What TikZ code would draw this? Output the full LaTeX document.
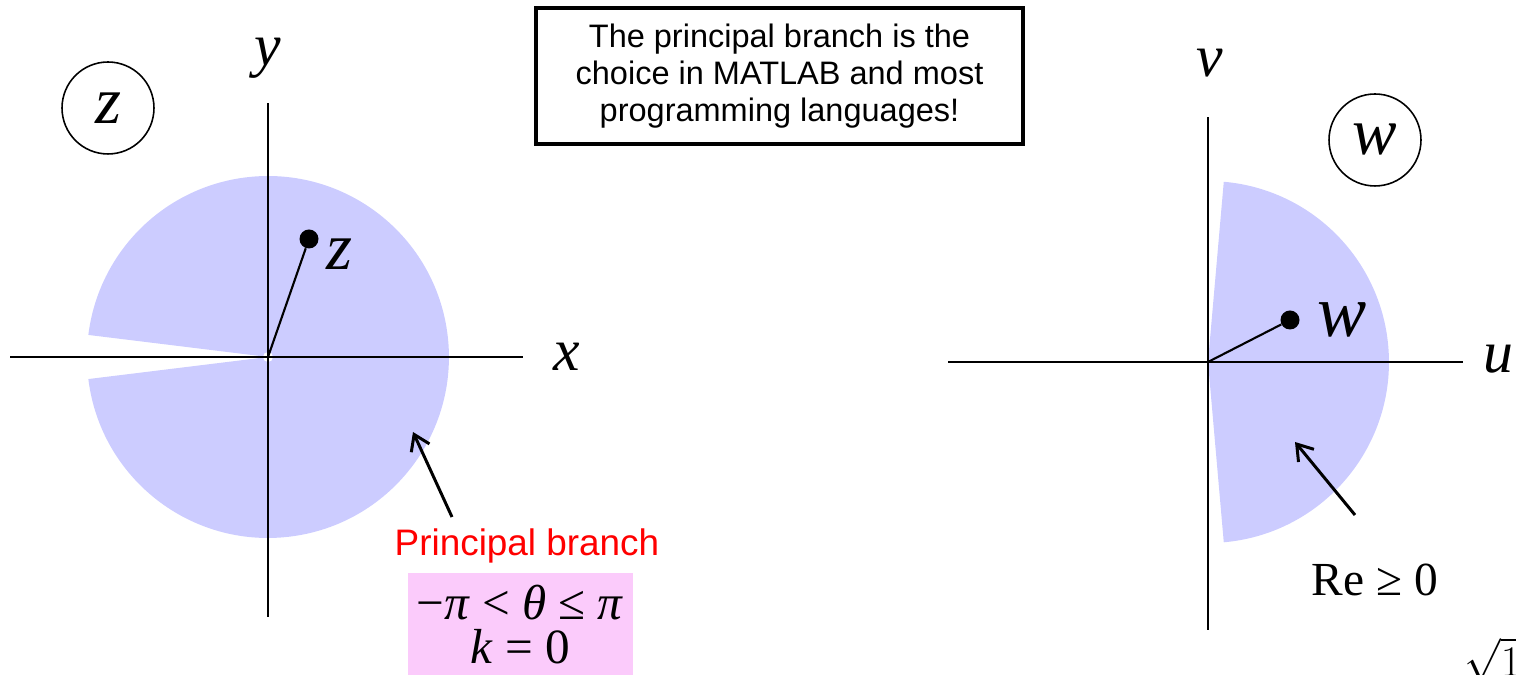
\documentclass[tikz,border=0pt]{standalone}
\usepackage{fontspec}
\setmainfont{Liberation Serif}
\newfontfamily\arialfont{Liberation Sans}
\usetikzlibrary{arrows.meta,positioning}
\definecolor{regionblue}{HTML}{CCCCFF}
\definecolor{notepink}{HTML}{FBCBFB}
\tikzset{
  plane/axis/.style={line width=1.5pt},
  plane/region/.style={fill=regionblue, draw=none},
  plane/label/.style={font=\fontsize{34}{36}\selectfont\itshape, inner sep=0pt},
  plane/name/.style={draw, circle, line width=0.9pt, minimum size=1.84cm, inner sep=0pt,
    font=\fontsize{38}{40}\selectfont\itshape},
  plane/dot/.style={fill, circle, inner sep=0pt, minimum size=0.38cm},
  plane/ray/.style={line width=1.2pt},
  plane/pointer/.style={line width=1.7pt, -{Straight Barb[length=3mm,width=4mm,line width=1.7pt]}},
  note/.style={draw, line width=1.8pt, minimum width=9.74cm, minimum height=2.72cm, align=center,
    font=\arialfont\fontsize{18.5}{21}\selectfont},
  formula/.style={font=\fontsize{27}{26}\selectfont, inner sep=0pt}
}
\begin{document}
\begin{tikzpicture}[x=0.02cm, y=0.02cm]
\useasboundingbox (0,0) rectangle (1516,675);

% z-plane
\coordinate (zo) at (268,318);
\fill[plane/region] (zo) -- ++(-173:181) arc[start angle=-173, end angle=173, radius=3.62cm] -- cycle;
\fill[white] (zo) circle[radius=0.1cm];
\coordinate (xbeg) at (10,318);
\coordinate (xend) at (523,318);
\coordinate (ybeg) at (268,58);
\coordinate (yend) at (268,572);
\draw[plane/axis] (xbeg) -- (xend);
\draw[plane/axis] (ybeg) -- (yend);
\node[plane/label, right=6mm of xend] (xlab) {x};
\node[plane/label] (ylab) at (268,617) {y};
\node[plane/name] (zname) at (108,567) {z};
\node[plane/dot] (zpt) at (309,436) {};
\draw[plane/ray] (zo) -- (zpt);
\node[plane/label, font=\fontsize{38}{40}\selectfont\itshape, right=1.5mm of zpt, yshift=-3mm] (zlab) {z};

\coordinate (ztail) at (452,158);
\coordinate (ztip) at (413,243);
\draw[plane/pointer] (ztail) -- (ztip);
\node[font=\arialfont\fontsize{21}{24}\selectfont, text=red] (branch) at (527,129) {Principal branch};
\node[fill=notepink, minimum width=4.5cm, minimum height=2.04cm] (range) at (520.5,51) {};
\node[formula, font=\fontsize{28}{25}\selectfont, align=center] (rangetext) at (520,50)
  {−\textit{π} < \textit{θ} ≤ \textit{π}\\\textit{k} = 0};

\node[note] (remark) at (779.5,599) {The principal branch is the\\choice in MATLAB and most\\programming languages!};

% w-plane
\coordinate (wo) at (1208,313);
\fill[plane/region] (wo) -- ++(-85:181) arc[start angle=-85, end angle=85, radius=3.62cm] -- cycle;
\coordinate (ubeg) at (948,313);
\coordinate (uend) at (1463,313);
\coordinate (vbeg) at (1208,45);
\coordinate (vend) at (1208,558);
\draw[plane/axis] (ubeg) -- (uend);
\draw[plane/axis] (vbeg) -- (vend);
\node[plane/label] (ulab) at (1498,316) {u};
\node[plane/label] (vlab) at (1210,612) {v};
\node[plane/name] (wname) at (1375,535) {w};
\node[plane/dot] (wpt) at (1290,355) {};
\draw[plane/ray] (wo) -- (wpt);
\node[plane/label, font=\fontsize{42}{44}\selectfont\itshape, right=3.5mm of wpt] (wlab) {w};

\coordinate (wtail) at (1355,160);
\coordinate (wtip) at (1295,233);
\draw[plane/pointer] (wtail) -- (wtip);
\node[formula] (halfplane) at (1375,95) {Re ≥ 0};

\node[formula, anchor=west] (root) at (1464,15) {$\sqrt{1}$ =};
\end{tikzpicture}
\end{document}
